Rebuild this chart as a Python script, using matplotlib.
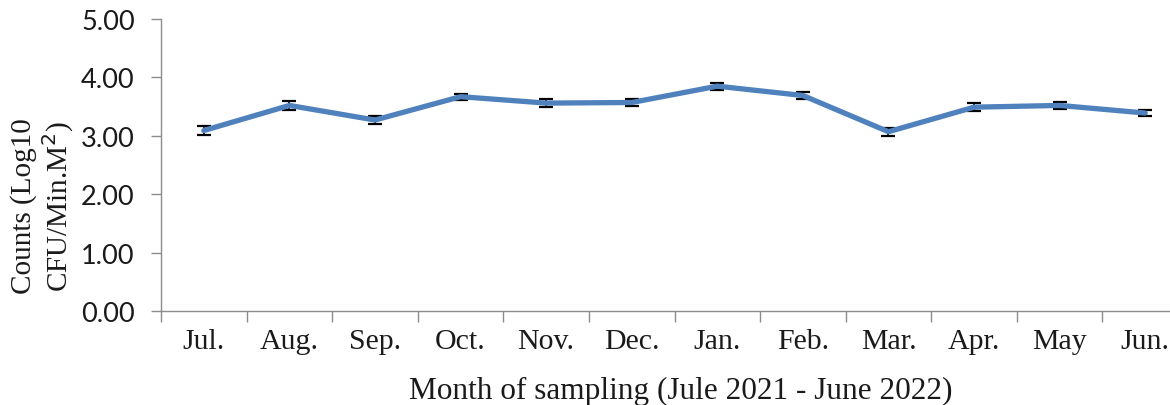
import matplotlib
matplotlib.use("Agg")
import matplotlib.pyplot as plt
import numpy as np

months = ["Jul.", "Aug.", "Sep.", "Oct.", "Nov.", "Dec.",
          "Jan.", "Feb.", "Mar.", "Apr.", "May", "Jun."]
counts = [3.09, 3.52, 3.27, 3.67, 3.56, 3.57, 3.85, 3.69, 3.07, 3.49, 3.52, 3.39]
errors = [0.07, 0.07, 0.065, 0.05, 0.065, 0.065, 0.06, 0.06, 0.07, 0.07, 0.06, 0.05]
y_ticks = [0.0, 1.0, 2.0, 3.0, 4.0, 5.0]

plt.rcParams["font.family"] = ["Liberation Serif", "DejaVu Serif"]
text_color = "#1a1a1a"
axis_color = "#8c8c8c"

fig = plt.figure(figsize=(11.70, 4.06), dpi=100)
W, H = 1170, 406
x0, x1 = 161, 1188
y0, y1 = 312, 20
ax = fig.add_axes([x0 / W, 1 - y0 / H, (x1 - x0) / W, (y0 - y1) / H])

x = np.arange(len(months))
ax.errorbar(x, counts, yerr=errors, color="#4F81BD", lw=3.8,
            ecolor="black", elinewidth=1.2, capsize=4.8, capthick=1.6,
            solid_capstyle="round", solid_joinstyle="round", zorder=3)

ax.set_xlim(-0.5, len(months) - 0.5)
ax.set_ylim(0, 5)
ax.set_yticks(y_ticks)
ax.set_yticklabels([f"{v:.2f}" for v in y_ticks], family=["Lato", "DejaVu Sans"])

# boundary ticks between months, labels centred on each month
ax.set_xticks(np.arange(-0.5, len(months), 1.0))
ax.set_xticklabels([])
ax.set_xticks(x, minor=True)
ax.set_xticklabels(months, minor=True)
ax.tick_params(axis="x", which="major", length=8, width=1, color=axis_color, direction="out")
ax.tick_params(axis="x", which="minor", length=0, pad=12, labelsize=21.5, labelcolor=text_color)
ax.tick_params(axis="y", length=7.5, width=1, color=axis_color, direction="out",
               pad=11.5, labelsize=19.5, labelcolor=text_color)

for side in ("top", "right"):
    ax.spines[side].set_visible(False)
for side in ("left", "bottom"):
    ax.spines[side].set_color(axis_color)
    ax.spines[side].set_linewidth(1.0)

fig.text(681 / W, 1 - 399 / H, "Month of sampling (Jule 2021 - June 2022)",
         ha="center", va="baseline", fontsize=22.5, color=text_color)
fig.text(43 / W, 1 - 206 / H, "Counts (Log10\nCFU/Min.M$^2$)",
         ha="center", va="center", rotation=90, fontsize=21,
         multialignment="center", color=text_color, linespacing=1.15)

fig.savefig("out.png", dpi=100, facecolor="white")
